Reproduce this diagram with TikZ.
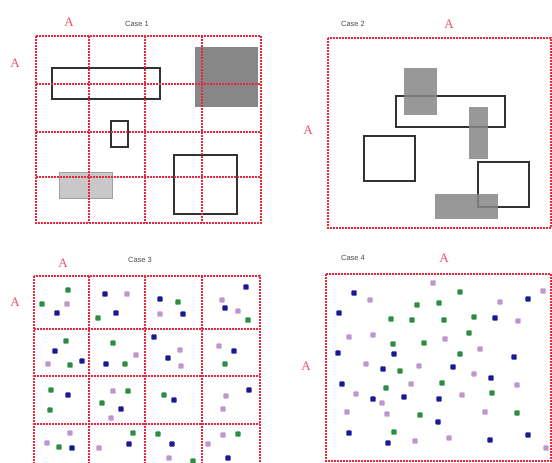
\documentclass[tikz,border=0pt]{standalone}
\usepackage{fontspec}
\setmainfont{Liberation Serif}
\newfontfamily\labfont{Liberation Sans}
\begin{document}
\begin{tikzpicture}[x=1pt,y=-1pt,
  redline/.style={draw=redc, line width=2.9, dash pattern=on 1.6 off 1.4},
  box/.style={draw=boxc, line width=1.7},
  darkfill/.style={fill=grayd},
  lightfill/.style={fill=grayl, draw=grayl!80!black, line width=0.6},
  Alab/.style={text=redc!80!white, font=\fontsize{13}{13}\selectfont, inner sep=0},
  caselab/.style={text=black!70, font=\labfont\fontsize{7.5}{8}\selectfont, inner sep=0},
  gdot/.style={fill=dotg},
  bdot/.style={fill=dotb},
  vdot/.style={fill=dotv}
]
\definecolor{redc}{RGB}{232,40,60}
\definecolor{boxc}{RGB}{50,50,50}
\definecolor{grayd}{RGB}{135,135,135}
\definecolor{grayl}{RGB}{200,200,200}
\definecolor{dotg}{RGB}{45,140,65}
\definecolor{dotb}{RGB}{25,25,150}
\definecolor{dotv}{RGB}{190,150,205}
\useasboundingbox (0,0) rectangle (552,463);
\clip (0,0) rectangle (552,463);
\fill[white] (0,0) rectangle (552,463);

% ---------------- Case 1 ----------------
\node[caselab] (c1) at (137,24) {Case 1};
\node[Alab] (a1t) at (69,22) {A};
\node[Alab] (a1l) at (15,63) {A};
\fill[darkfill] (195,47) rectangle (258,107);
\draw[lightfill] (59,172) rectangle (112,198);
\draw[box] (52,68) rectangle (160,99);
\draw[box] (111,121) rectangle (128,147);
\draw[box] (174,155) rectangle (237,214);
\foreach \x in {89,145,202} \draw[redline] (\x,36) -- (\x,223);
\foreach \y in {84,132,177} \draw[redline] (36,\y) -- (261,\y);
\draw[redline] (36,36) rectangle (261,223);

% ---------------- Case 2 ----------------
\node[caselab] (c2) at (353,24) {Case 2};
\node[Alab] (a2t) at (449,24) {A};
\node[Alab] (a2l) at (308,130) {A};
\draw[box] (396,96) rectangle (505,127);
\draw[box] (364,136) rectangle (415,181);
\draw[box] (478,162) rectangle (529,207);
\fill[darkfill, opacity=0.85] (404,68) rectangle (437,115);
\fill[darkfill, opacity=0.85] (469,107) rectangle (488,159);
\fill[darkfill, opacity=0.85] (435,194) rectangle (498,219);
\draw[redline] (328,38) rectangle (551,228);

% ---------------- Case 3 ----------------
\node[caselab] (c3) at (140,260) {Case 3};
\node[Alab] (a3t) at (63,263) {A};
\node[Alab] (a3l) at (15,302) {A};
\foreach \x in {89,145,202} \draw[redline] (\x,276) -- (\x,475);
\foreach \y in {329,376,424} \draw[redline] (34,\y) -- (260,\y);
\draw[redline] (34,276) rectangle (260,472);
\foreach \s/\x/\y in {
 g/68/290, g/42/304, v/67/304, b/57/313,
 b/105/294, v/127/294, b/116/313, g/98/318,
 b/160/299, g/178/302, v/160/314, b/183/314,
 b/246/287, v/222/300, b/225/308, v/238/311, g/248/320,
 g/66/341, b/55/351, v/48/364, g/70/365, b/82/361,
 g/113/343, v/136/355, b/106/364, g/125/364,
 b/154/337, v/180/350, b/168/358, v/181/366,
 v/219/346, b/234/351, g/225/364,
 g/51/390, b/68/395, g/50/410,
 v/113/391, g/128/391, g/102/403, b/121/409, v/111/418,
 g/164/395, b/174/400,
 b/249/390, v/226/396, v/223/409,
 v/70/433, v/47/443, g/59/447, b/72/448,
 g/133/433, b/129/444, v/99/448,
 g/158/434, b/172/444, v/169/458, g/193/461,
 v/223/435, g/238/434, v/208/444, b/228/458}
 \fill[\s dot, rounded corners=0.9] (\x-2.7,\y-2.7) rectangle (\x+2.7,\y+2.7);

% ---------------- Case 4 ----------------
\node[caselab] (c4) at (353,258) {Case 4};
\node[Alab] (a4t) at (444,258) {A};
\node[Alab] (a4l) at (306,366) {A};
\draw[redline] (326,274) rectangle (551,461);
\foreach \s/\x/\y in {
 v/433/283, g/460/292, b/354/293, v/370/300, v/543/291, b/528/299,
 v/500/302, g/417/305, g/439/303, b/339/313, g/391/319, g/412/320,
 g/444/320, g/474/317, b/495/318, v/518/321, v/349/337, v/373/335,
 g/469/333, g/393/344, g/424/343, v/445/339, v/480/349, b/338/353,
 b/394/354, g/460/354, b/514/357, v/366/364, b/383/369, g/400/371,
 v/419/366, b/453/367, v/474/374, b/491/378, b/342/384, g/386/388,
 v/411/384, g/442/383, v/517/385, v/356/394, g/492/393, b/373/399,
 v/382/403, b/404/397, b/439/399, v/462/395, v/347/412, v/387/414,
 g/420/415, v/485/412, g/517/413, b/438/422, b/349/433, g/394/432,
 b/388/443, v/415/441, v/449/438, b/490/440, b/528/435, v/546/448}
 \fill[\s dot, rounded corners=0.9] (\x-2.7,\y-2.7) rectangle (\x+2.7,\y+2.7);
\end{tikzpicture}
\end{document}
